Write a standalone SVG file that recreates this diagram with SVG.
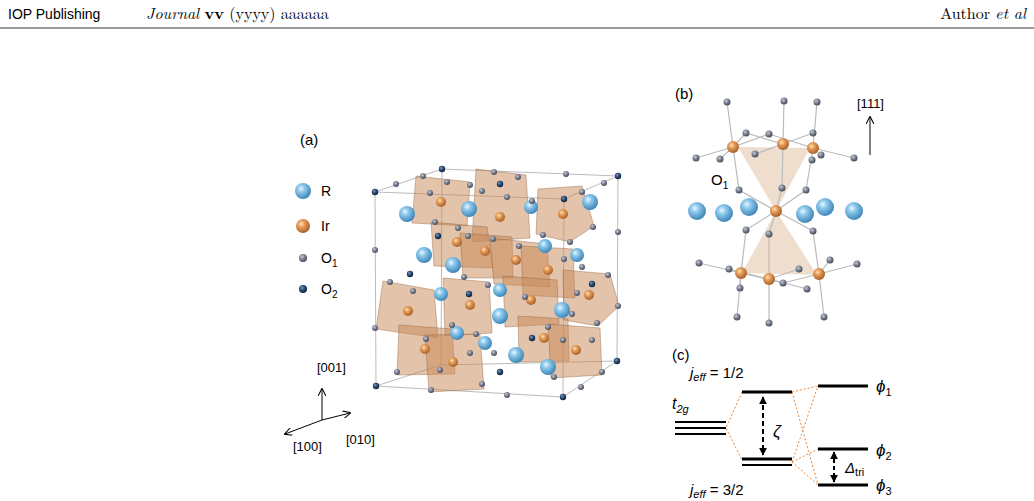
<svg xmlns="http://www.w3.org/2000/svg" width="1034" height="501" viewBox="0 0 1034 501">
<defs>
<radialGradient id="gB" cx="0.38" cy="0.35" r="0.65"><stop offset="0" stop-color="#e8f6ff"/><stop offset="0.35" stop-color="#8cc8ec"/><stop offset="1" stop-color="#3f86b8"/></radialGradient>
<radialGradient id="gI" cx="0.38" cy="0.35" r="0.65"><stop offset="0" stop-color="#ffe0b8"/><stop offset="0.4" stop-color="#e49a55"/><stop offset="1" stop-color="#a8612a"/></radialGradient>
<radialGradient id="gO" cx="0.38" cy="0.35" r="0.65"><stop offset="0" stop-color="#c8ccd8"/><stop offset="0.5" stop-color="#7b8192"/><stop offset="1" stop-color="#484d5c"/></radialGradient>
<radialGradient id="gD" cx="0.38" cy="0.35" r="0.65"><stop offset="0" stop-color="#7d9bbd"/><stop offset="0.5" stop-color="#2a4a70"/><stop offset="1" stop-color="#0f2240"/></radialGradient>
<marker id="ah" viewBox="0 0 10 10" refX="9" refY="5" markerWidth="8" markerHeight="8" orient="auto-start-reverse"><path d="M0,0 L10,5 L0,10" fill="none" stroke="#000" stroke-width="1.3"/></marker>
<marker id="af" viewBox="0 0 10 10" refX="9" refY="5" markerWidth="4" markerHeight="4" orient="auto-start-reverse"><path d="M0,0 L10,5 L0,10 z" fill="#000"/></marker>
</defs>
<style>
text{font-family:"Liberation Sans",Arial,sans-serif;fill:#000}
.ser{font-family:"Latin Modern Roman","DejaVu Serif","Liberation Serif",serif}
.cell{fill:none;stroke:#aaa;stroke-width:0.8}
.oct{fill:rgba(200,135,85,0.5);stroke:rgba(140,95,60,0.5);stroke-width:0.8}
.bond{stroke:#bbb;stroke-width:1.2}
.lvl{stroke:#000;stroke-width:3}
.dot{stroke:#e8873a;stroke-width:1;stroke-dasharray:2,2;fill:none}
.B{fill:url(#gB)}.I{fill:url(#gI)}.O{fill:url(#gO)}.D{fill:url(#gD)}
</style>
<g id="header">
<text x="8" y="19" font-size="14">IOP Publishing</text>
<text x="146" y="19" font-size="16" class="ser"><tspan font-style="italic">Journal</tspan> <tspan font-weight="bold">vv</tspan> (yyyy) aaaaaa</text>
<text x="1026" y="19" font-size="16" class="ser" text-anchor="end">Author <tspan font-style="italic">et al</tspan></text>
<line x1="0" y1="28" x2="1034" y2="28" stroke="#000" stroke-width="0.8"/>
</g>
<g id="panel-a">
<text x="300" y="145" font-size="15">(a)</text>
<circle cx="303" cy="191" r="8" class="B"/><text x="321" y="196" font-size="14">R</text>
<circle cx="303" cy="226" r="7" class="I"/><text x="321" y="231" font-size="14">Ir</text>
<circle cx="303" cy="258" r="4" class="O"/><text x="321" y="263" font-size="14">O<tspan font-size="10" dy="4">1</tspan></text>
<circle cx="303" cy="289" r="4" class="D"/><text x="321" y="294" font-size="14">O<tspan font-size="10" dy="4">2</tspan></text>
<g class="cell">
<polygon points="375,192 564,199 563,397 376,386"/>
<polygon points="442,169 618,176 617,361 441,365"/>
<line x1="375" y1="192" x2="442" y2="169"/><line x1="564" y1="199" x2="618" y2="176"/>
<line x1="563" y1="397" x2="617" y2="361"/><line x1="376" y1="386" x2="441" y2="365"/>
</g>
<g id="octahedra">
<polygon class="oct" points="416,176 470,182 467,226 412,223"/>
<polygon class="oct" points="476,169 526,175 530,238 472,242"/>
<polygon class="oct" points="538,189 582,186 594,226 570,242 536,234"/>
<polygon class="oct" points="431,222 487,227 493,268 434,266"/>
<polygon class="oct" points="460,233 512,237 513,278 463,278"/>
<polygon class="oct" points="490,238 547,244 550,287 494,284"/>
<polygon class="oct" points="521,246 573,249 575,298 523,295"/>
<polygon class="oct" points="383,281 434,290 438,338 376,329"/>
<polygon class="oct" points="443,278 489,282 492,333 445,336"/>
<polygon class="oct" points="503,276 557,280 559,324 505,327"/>
<polygon class="oct" points="563,270 610,274 619,306 598,326 564,320"/>
<polygon class="oct" points="399,325 452,329 455,374 397,375"/>
<polygon class="oct" points="425,335 480,334 484,389 429,392"/>
<polygon class="oct" points="518,316 568,319 569,361 519,362"/>
<polygon class="oct" points="548,324 600,328 602,375 551,378"/>
</g>
<g id="atoms-a">
<g class="I">
<circle cx="441" cy="202" r="5"/><circle cx="500" cy="217" r="5"/><circle cx="563" cy="214" r="5"/><circle cx="457" cy="242" r="5"/><circle cx="485" cy="251" r="5"/><circle cx="516" cy="260" r="5"/><circle cx="548" cy="270" r="5"/><circle cx="408" cy="311" r="5"/><circle cx="470" cy="305" r="5"/><circle cx="531" cy="300" r="5"/><circle cx="589" cy="295" r="5"/><circle cx="425" cy="349" r="5"/><circle cx="453" cy="362" r="5"/><circle cx="544" cy="338" r="5"/><circle cx="576" cy="350" r="5"/>
</g>
<g class="B">
<circle cx="407" cy="214" r="8"/><circle cx="469" cy="209" r="8"/><circle cx="531" cy="207" r="7"/><circle cx="590" cy="202" r="8"/><circle cx="424" cy="255" r="8"/><circle cx="453" cy="265" r="8"/><circle cx="545" cy="246" r="7"/><circle cx="577" cy="255" r="7"/><circle cx="441" cy="294" r="7"/><circle cx="500" cy="290" r="7"/><circle cx="500" cy="316" r="8"/><circle cx="562" cy="310" r="8"/><circle cx="457" cy="333" r="7"/><circle cx="485" cy="343" r="7"/><circle cx="516" cy="355" r="8"/><circle cx="548" cy="367" r="8"/>
</g>
<g class="D">
<circle cx="375" cy="192" r="3.2"/><circle cx="442" cy="169" r="3.2"/><circle cx="500" cy="184" r="3.2"/><circle cx="564" cy="199" r="3.2"/><circle cx="618" cy="176" r="3.2"/><circle cx="438" cy="236" r="3.2"/><circle cx="410" cy="274" r="3.2"/><circle cx="469" cy="294" r="3.2"/><circle cx="592" cy="284" r="3.2"/><circle cx="532" cy="338" r="3.2"/><circle cx="500" cy="372" r="3.2"/><circle cx="376" cy="386" r="3.2"/><circle cx="563" cy="397" r="3.2"/><circle cx="617" cy="361" r="3.2"/>
</g>
<g class="O">
<circle cx="423" cy="176" r="3"/><circle cx="396" cy="184" r="3"/><circle cx="494" cy="172" r="3"/><circle cx="518" cy="177" r="3"/><circle cx="566" cy="174" r="3"/><circle cx="604" cy="183" r="3"/><circle cx="618" cy="232" r="3"/><circle cx="375" cy="250" r="3"/><circle cx="375" cy="328" r="3"/><circle cx="618" cy="306" r="3"/><circle cx="431" cy="390" r="3"/><circle cx="507" cy="395" r="3"/><circle cx="581" cy="387" r="3"/><circle cx="447" cy="182" r="3"/><circle cx="470" cy="185" r="3"/><circle cx="430" cy="193" r="3"/><circle cx="482" cy="191" r="3"/><circle cx="507" cy="197" r="3"/><circle cx="532" cy="201" r="3"/><circle cx="582" cy="192" r="3"/><circle cx="593" cy="227" r="3"/><circle cx="570" cy="242" r="3"/><circle cx="543" cy="235" r="3"/><circle cx="458" cy="228" r="3"/><circle cx="435" cy="222" r="3"/><circle cx="468" cy="236" r="3"/><circle cx="493" cy="239" r="3"/><circle cx="519" cy="246" r="3"/><circle cx="564" cy="259" r="3"/><circle cx="582" cy="267" r="3"/><circle cx="608" cy="275" r="3"/><circle cx="390" cy="282" r="3"/><circle cx="413" cy="291" r="3"/><circle cx="464" cy="277" r="3"/><circle cx="488" cy="285" r="3"/><circle cx="525" cy="297" r="3"/><circle cx="577" cy="293" r="3"/><circle cx="597" cy="323" r="3"/><circle cx="572" cy="314" r="3"/><circle cx="548" cy="327" r="3"/><circle cx="476" cy="334" r="3"/><circle cx="452" cy="325" r="3"/><circle cx="426" cy="339" r="3"/><circle cx="470" cy="353" r="3"/><circle cx="494" cy="353" r="3"/><circle cx="563" cy="340" r="3"/><circle cx="592" cy="340" r="3"/><circle cx="602" cy="372" r="3"/><circle cx="554" cy="377" r="3"/><circle cx="482" cy="384" r="3"/><circle cx="440" cy="370" r="3"/><circle cx="397" cy="372" r="3"/>
</g>
</g>
<g id="axes">
<line x1="322" y1="420" x2="322" y2="389" stroke="#000" marker-end="url(#ah)"/>
<line x1="322" y1="420" x2="285" y2="434" stroke="#000" marker-end="url(#ah)"/>
<line x1="322" y1="420" x2="350" y2="413" stroke="#000" marker-end="url(#ah)"/>
<text x="317" y="372" font-size="13">[001]</text>
<text x="293" y="451" font-size="13">[100]</text>
<text x="346" y="444" font-size="13">[010]</text>
</g>
</g>
<g id="panel-b">
<text x="675" y="99" font-size="15">(b)</text>
<text x="857" y="108" font-size="13">[111]</text>
<line x1="870" y1="155" x2="870" y2="117" stroke="#000" marker-end="url(#ah)"/>
<polygon points="738,147 810,148 776,211" fill="rgba(225,195,165,0.55)"/>
<polygon points="776,211 742,273 817,275" fill="rgba(225,195,165,0.55)"/>
<g class="bond">
<line x1="733" y1="147" x2="727" y2="102"/><line x1="733" y1="147" x2="696" y2="158"/><line x1="733" y1="147" x2="746" y2="133"/><line x1="733" y1="147" x2="739" y2="190"/><line x1="733" y1="147" x2="720" y2="159"/><line x1="733" y1="147" x2="769" y2="134"/>
<line x1="783" y1="144" x2="784" y2="101"/><line x1="783" y1="144" x2="746" y2="133"/><line x1="783" y1="144" x2="782" y2="188"/><line x1="783" y1="144" x2="755" y2="154"/><line x1="783" y1="144" x2="813" y2="133"/>
<line x1="813" y1="148" x2="817" y2="102"/><line x1="813" y1="148" x2="854" y2="158"/><line x1="813" y1="148" x2="806" y2="190"/><line x1="813" y1="148" x2="769" y2="134"/>
<line x1="776" y1="211" x2="739" y2="190"/><line x1="776" y1="211" x2="782" y2="188"/><line x1="776" y1="211" x2="806" y2="190"/><line x1="776" y1="211" x2="746" y2="230"/><line x1="776" y1="211" x2="769" y2="234"/><line x1="776" y1="211" x2="813" y2="231"/>
<line x1="741" y1="273" x2="746" y2="230"/><line x1="741" y1="273" x2="699" y2="263"/><line x1="741" y1="273" x2="740" y2="288"/><line x1="741" y1="273" x2="737" y2="317"/><line x1="741" y1="273" x2="783" y2="283"/>
<line x1="769" y1="279" x2="769" y2="234"/><line x1="769" y1="279" x2="769" y2="323"/><line x1="769" y1="279" x2="729" y2="269"/><line x1="769" y1="279" x2="799" y2="269"/><line x1="769" y1="279" x2="807" y2="289"/>
<line x1="819" y1="274" x2="813" y2="231"/><line x1="819" y1="274" x2="857" y2="264"/><line x1="819" y1="274" x2="824" y2="317"/><line x1="819" y1="274" x2="830" y2="260"/><line x1="819" y1="274" x2="783" y2="283"/>
</g>
<g class="B">
<circle cx="697" cy="211" r="9"/><circle cx="724" cy="213" r="9"/><circle cx="749" cy="207" r="9"/><circle cx="805" cy="214" r="9"/><circle cx="825" cy="207" r="9"/><circle cx="854" cy="211" r="9"/>
</g>
<g class="O">
<circle cx="727" cy="102" r="3.5"/><circle cx="784" cy="101" r="3.5"/><circle cx="817" cy="102" r="3.5"/><circle cx="746" cy="133" r="3.5"/><circle cx="769" cy="134" r="3.5"/><circle cx="813" cy="133" r="3.5"/><circle cx="696" cy="158" r="3.5"/><circle cx="720" cy="159" r="3.5"/><circle cx="755" cy="154" r="3.5"/><circle cx="812" cy="160" r="3.5"/><circle cx="821" cy="155" r="3.5"/><circle cx="854" cy="158" r="3.5"/><circle cx="739" cy="190" r="3.5"/><circle cx="782" cy="188" r="3.5"/><circle cx="806" cy="190" r="3.5"/><circle cx="746" cy="230" r="3.5"/><circle cx="769" cy="234" r="3.5"/><circle cx="813" cy="231" r="3.5"/><circle cx="699" cy="263" r="3.5"/><circle cx="729" cy="269" r="3.5"/><circle cx="799" cy="269" r="3.5"/><circle cx="830" cy="260" r="3.5"/><circle cx="857" cy="264" r="3.5"/><circle cx="740" cy="288" r="3.5"/><circle cx="783" cy="283" r="3.5"/><circle cx="807" cy="289" r="3.5"/><circle cx="737" cy="317" r="3.5"/><circle cx="769" cy="323" r="3.5"/><circle cx="824" cy="317" r="3.5"/>
</g>
<g class="I">
<circle cx="733" cy="147" r="6"/><circle cx="783" cy="144" r="6"/><circle cx="813" cy="148" r="6"/><circle cx="776" cy="211" r="6"/><circle cx="741" cy="273" r="6"/><circle cx="769" cy="279" r="6"/><circle cx="819" cy="274" r="6"/>
</g>
<text x="711" y="185" font-size="15">O<tspan font-size="10" dy="4">1</tspan></text>
</g>
<g id="panel-c">
<text x="672" y="360" font-size="15">(c)</text>
<text x="690" y="378" font-size="15"><tspan font-style="italic">j</tspan><tspan font-size="11" font-style="italic" dy="3">eff</tspan><tspan dy="-3"> = 1/2</tspan></text>
<text x="690" y="495" font-size="15"><tspan font-style="italic">j</tspan><tspan font-size="11" font-style="italic" dy="3">eff</tspan><tspan dy="-3"> = 3/2</tspan></text>
<text x="672" y="409" font-size="16" font-style="italic">t<tspan font-size="11" dy="4">2g</tspan></text>
<g class="dot">
<polyline points="742,392 726,428 742,460"/>
<line x1="792" y1="392" x2="818" y2="386"/><line x1="792" y1="392" x2="818" y2="485"/>
<line x1="792" y1="462" x2="818" y2="449"/><line x1="792" y1="462" x2="818" y2="386"/><line x1="792" y1="462" x2="818" y2="485"/>
</g>
<g class="lvl">
<line x1="675" y1="422" x2="726" y2="422" stroke-width="2.2"/><line x1="675" y1="428" x2="726" y2="428" stroke-width="2.2"/><line x1="675" y1="434" x2="726" y2="434" stroke-width="2.2"/>
<line x1="742" y1="392" x2="792" y2="392"/>
<line x1="742" y1="459" x2="792" y2="459"/><line x1="742" y1="465" x2="792" y2="465" stroke-width="2.2"/>
<line x1="818" y1="386" x2="868" y2="386"/><line x1="818" y1="449" x2="868" y2="449"/><line x1="818" y1="485" x2="868" y2="485"/>
</g>
<line x1="763" y1="397" x2="763" y2="455" stroke="#000" stroke-width="2" stroke-dasharray="5,3" marker-start="url(#af)" marker-end="url(#af)"/>
<line x1="834" y1="452" x2="834" y2="482" stroke="#000" stroke-width="2" stroke-dasharray="4,3" marker-start="url(#af)" marker-end="url(#af)"/>
<text x="773" y="437" font-size="17" font-style="italic">ζ</text>
<text x="845" y="473" font-size="15" font-style="italic">Δ<tspan font-size="11" font-style="normal" dy="3">tri</tspan></text>
<text x="876" y="392" font-size="17" font-style="italic">ϕ<tspan font-size="11" font-style="normal" dy="4">1</tspan></text>
<text x="876" y="456" font-size="17" font-style="italic">ϕ<tspan font-size="11" font-style="normal" dy="4">2</tspan></text>
<text x="876" y="491" font-size="17" font-style="italic">ϕ<tspan font-size="11" font-style="normal" dy="4">3</tspan></text>
</g>
</svg>
